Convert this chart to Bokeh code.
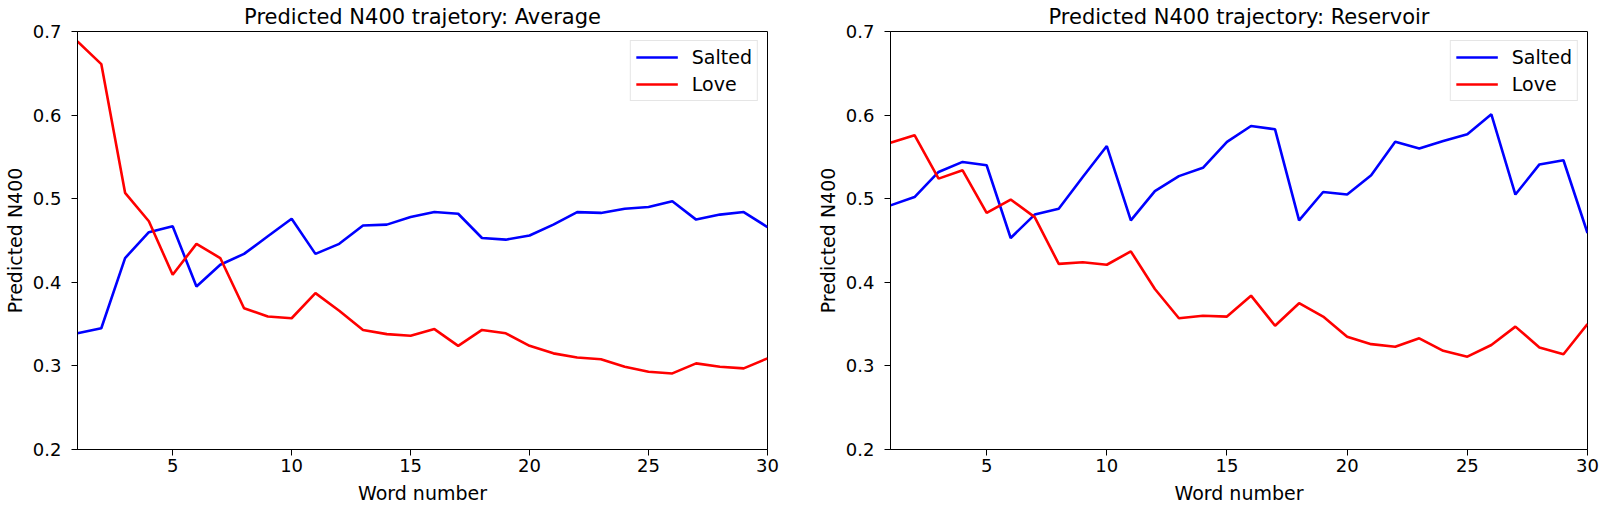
from bokeh.plotting import figure
from bokeh.layouts import row
from bokeh.models import FixedTicker, Range1d, Legend, LegendItem
from bokeh.embed import file_html
from bokeh.resources import INLINE

words = list(range(1, 31))

avg_salted = [0.339, 0.345, 0.429, 0.460, 0.467, 0.395, 0.421, 0.434, 0.455, 0.476,
              0.434, 0.446, 0.468, 0.469, 0.478, 0.484, 0.482, 0.453, 0.451, 0.456,
              0.469, 0.484, 0.483, 0.488, 0.490, 0.497, 0.475, 0.481, 0.484, 0.466]
avg_love = [0.688, 0.661, 0.507, 0.473, 0.409, 0.446, 0.429, 0.369, 0.359, 0.357,
            0.387, 0.366, 0.343, 0.338, 0.336, 0.344, 0.324, 0.343, 0.339, 0.324,
            0.315, 0.310, 0.308, 0.299, 0.293, 0.291, 0.303, 0.299, 0.297, 0.309]

res_salted = [0.492, 0.502, 0.532, 0.544, 0.540, 0.453, 0.481, 0.488, 0.526, 0.563,
              0.474, 0.509, 0.527, 0.537, 0.568, 0.587, 0.583, 0.474, 0.508, 0.505,
              0.528, 0.568, 0.560, 0.569, 0.577, 0.601, 0.505, 0.541, 0.546, 0.459]
res_love = [0.567, 0.576, 0.524, 0.534, 0.483, 0.499, 0.478, 0.422, 0.424, 0.421,
            0.437, 0.392, 0.357, 0.360, 0.359, 0.384, 0.348, 0.375, 0.359, 0.335,
            0.326, 0.323, 0.333, 0.318, 0.311, 0.325, 0.347, 0.322, 0.314, 0.350]

x_ticks = [5, 10, 15, 20, 25, 30]
y_ticks = [0.2, 0.3, 0.4, 0.5, 0.6, 0.7]
series_names = ["Salted", "Love"]
series_colors = ["#0000ff", "#ff0000"]
titles = ["Predicted N400 trajetory: Average", "Predicted N400 trajectory: Reservoir"]

FONT = "DejaVu Sans"


def make_plot(title, salted, love, width, left_border, right_border):
    p = figure(width=width, height=506, output_backend="svg", toolbar_location=None,
               x_range=Range1d(1, 30), y_range=Range1d(0.2, 0.7),
               min_border_left=left_border, min_border_right=right_border,
               min_border_top=31, min_border_bottom=57,
               x_axis_label="Word number", y_axis_label="Predicted N400")
    p.title.text = title
    p.title.align = "center"
    p.title.text_font = FONT
    p.title.text_font_size = "21px"
    p.title.text_font_style = "normal"
    p.title.text_color = "black"
    p.title.text_line_height = 0.7
    p.title.standoff = 5
    p.xgrid.visible = False
    p.ygrid.visible = False
    p.outline_line_color = "black"
    p.outline_line_width = 1
    p.outline_line_alpha = 1
    p.background_fill_color = "white"
    p.border_fill_color = "white"

    p.xaxis.ticker = FixedTicker(ticks=x_ticks)
    p.yaxis.ticker = FixedTicker(ticks=y_ticks)
    for ax in (p.xaxis, p.yaxis):
        ax.minor_tick_line_color = None
        ax.major_tick_in = 0
        ax.major_tick_out = 6
        ax.axis_line_color = "black"
        ax.major_tick_line_color = "black"
        ax.major_label_text_font = FONT
        ax.major_label_text_font_size = "18px"
        ax.major_label_text_color = "black"
        ax.axis_label_text_font = FONT
        ax.axis_label_text_font_size = "19px"
        ax.axis_label_text_font_style = "normal"
        ax.axis_label_text_color = "black"
    p.yaxis.major_label_standoff = 10
    p.yaxis.axis_label_standoff = 4
    p.xaxis.major_label_standoff = 3
    p.xaxis.axis_label_standoff = 7

    r1 = p.line(words, salted, line_color=series_colors[0], line_width=2.6)
    r2 = p.line(words, love, line_color=series_colors[1], line_width=2.6)

    legend = Legend(items=[LegendItem(label=series_names[0], renderers=[r1]),
                           LegendItem(label=series_names[1], renderers=[r2])],
                    location="top_right")
    legend.margin = 9
    legend.padding = 5
    legend.spacing = 5
    legend.glyph_width = 42
    legend.glyph_height = 22
    legend.label_height = 22
    legend.label_standoff = 14
    legend.label_text_font = FONT
    legend.label_text_font_size = "19px"
    legend.label_text_color = "black"
    legend.border_line_color = "#cccccc"
    legend.border_line_width = 1.5
    legend.background_fill_alpha = 0.9
    p.add_layout(legend, "center")
    return p


p1 = make_plot(titles[0], avg_salted, avg_love, 800, 71, 33)
p2 = make_plot(titles[1], res_salted, res_love, 800, 90, 13)

layout = row(p1, p2, spacing=0)
open("out.html", "w").write(file_html(layout, INLINE))
